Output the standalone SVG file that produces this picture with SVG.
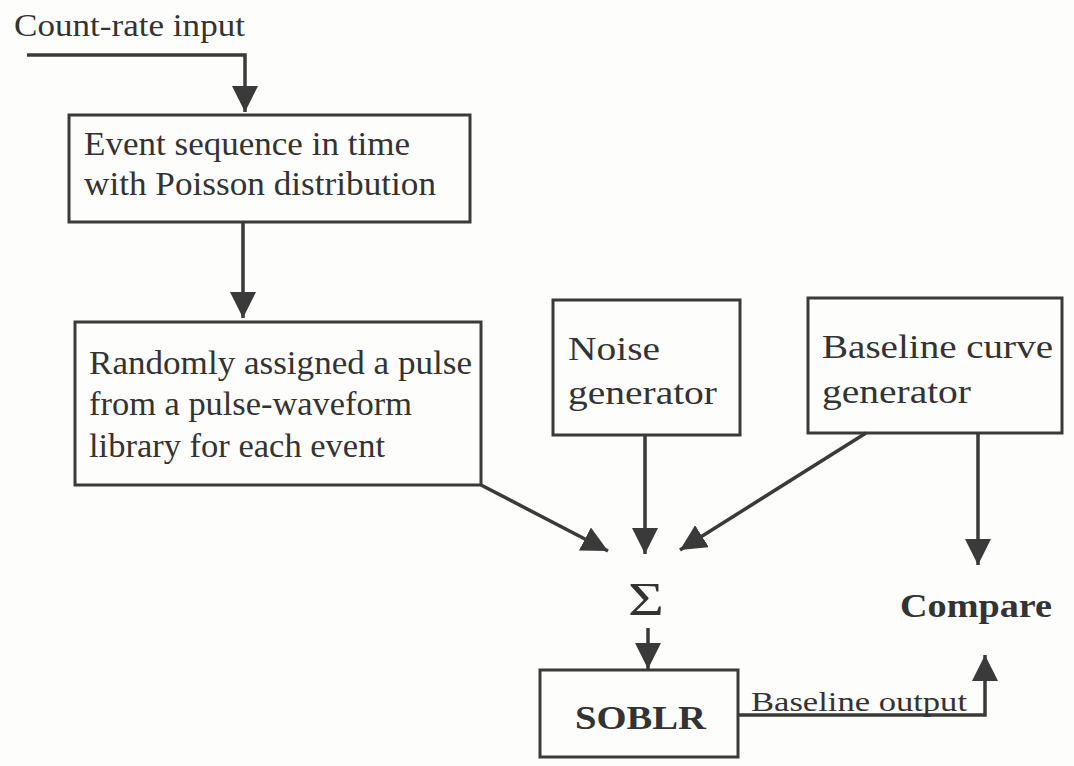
<svg xmlns="http://www.w3.org/2000/svg" width="1074" height="766" viewBox="0 0 1074 766">
  <style>
    .box { fill: none; stroke: #3a3a3a; stroke-width: 3; }
    .wire { fill: none; stroke: #3a3a3a; stroke-width: 3.5; }
    .lbl { font-family: "Liberation Serif", "Times New Roman", serif; font-size: 33px; fill: #333; }
    .bold { font-weight: bold; }
  </style>
  <defs>
    <marker id="arrow" markerUnits="userSpaceOnUse" markerWidth="28" markerHeight="28" refX="26" refY="13" orient="auto">
      <path d="M0,0 L26,13 L0,26 Z" fill="#3a3a3a"/>
    </marker>
  </defs>
  <rect width="1074" height="766" fill="#fdfdfb"/>

  <text class="lbl" x="14" y="36" textLength="231" lengthAdjust="spacingAndGlyphs" style="font-size:31px">Count-rate input</text>

  <g id="event-sequence">
    <rect class="box" x="69" y="115" width="401" height="107"/>
    <text class="lbl" x="84" y="155" textLength="326" lengthAdjust="spacingAndGlyphs">Event sequence in time</text>
    <text class="lbl" x="84" y="195" textLength="352" lengthAdjust="spacingAndGlyphs">with Poisson distribution</text>
  </g>

  <g id="pulse-assign">
    <rect class="box" x="75" y="322" width="406" height="163"/>
    <text class="lbl" x="89" y="374" textLength="383" lengthAdjust="spacingAndGlyphs">Randomly assigned a pulse</text>
    <text class="lbl" x="89" y="415" textLength="323" lengthAdjust="spacingAndGlyphs">from a pulse-waveform</text>
    <text class="lbl" x="89" y="457" textLength="296" lengthAdjust="spacingAndGlyphs">library for each event</text>
  </g>

  <g id="noise-generator">
    <rect class="box" x="553" y="300" width="187" height="135"/>
    <text class="lbl" x="568" y="360" textLength="92" lengthAdjust="spacingAndGlyphs">Noise</text>
    <text class="lbl" x="568" y="404" textLength="149" lengthAdjust="spacingAndGlyphs">generator</text>
  </g>

  <g id="baseline-generator">
    <rect class="box" x="808" y="298" width="254" height="135"/>
    <text class="lbl" x="822" y="358" textLength="231" lengthAdjust="spacingAndGlyphs">Baseline curve</text>
    <text class="lbl" x="822" y="403" textLength="149" lengthAdjust="spacingAndGlyphs">generator</text>
  </g>

  <g id="sum">
    <text class="lbl" x="628" y="615" textLength="36" lengthAdjust="spacingAndGlyphs" style="font-size:46px">Σ</text>
  </g>

  <g id="soblr">
    <rect class="box" x="540" y="670" width="198" height="87"/>
    <text class="lbl bold" x="575" y="729" textLength="131" lengthAdjust="spacingAndGlyphs">SOBLR</text>
  </g>

  <g id="compare">
    <text class="lbl bold" x="900" y="617" textLength="152" lengthAdjust="spacingAndGlyphs">Compare</text>
  </g>

  <g id="connectors">
    <polyline class="wire" points="27,55 245,55 245,112" marker-end="url(#arrow)"/>
    <line class="wire" x1="243" y1="222" x2="243" y2="318" marker-end="url(#arrow)"/>
    <line class="wire" x1="481" y1="485" x2="608" y2="551" marker-end="url(#arrow)"/>
    <line class="wire" x1="645" y1="435" x2="645" y2="554" marker-end="url(#arrow)"/>
    <line class="wire" x1="866" y1="433" x2="680" y2="550" marker-end="url(#arrow)"/>
    <line class="wire" x1="978" y1="433" x2="978" y2="565" marker-end="url(#arrow)"/>
    <line class="wire" x1="648" y1="628" x2="648" y2="669" marker-end="url(#arrow)"/>
    <polyline class="wire" points="738,715 985,715 985,655" marker-end="url(#arrow)"/>
    <text class="lbl" x="751" y="711" textLength="216" lengthAdjust="spacingAndGlyphs" style="font-size:28px">Baseline output</text>
  </g>
</svg>
